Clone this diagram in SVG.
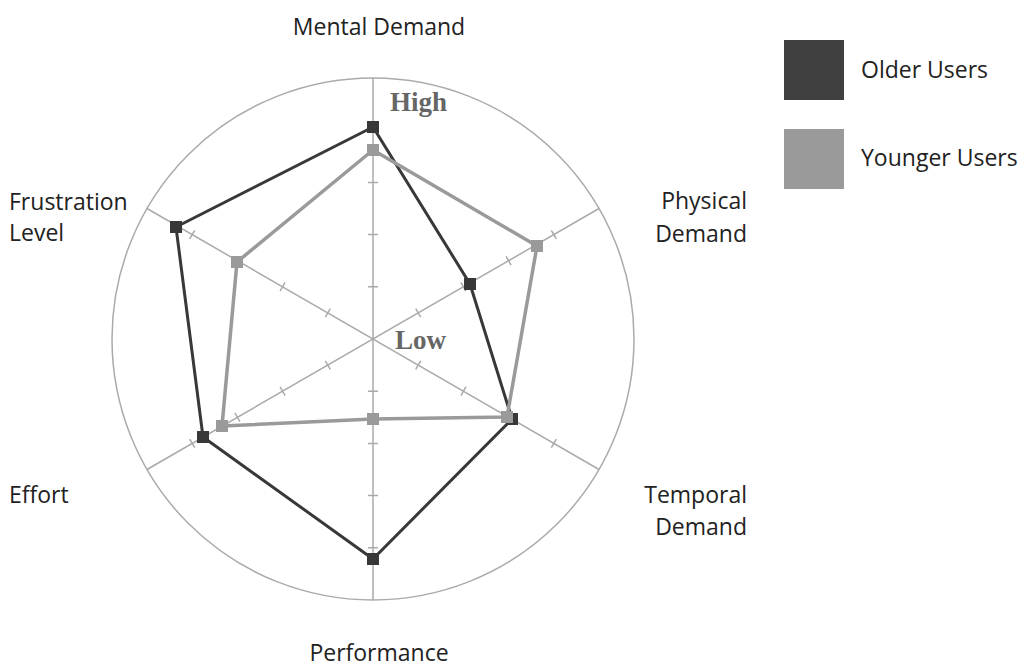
<svg xmlns="http://www.w3.org/2000/svg" xmlns:xlink="http://www.w3.org/1999/xlink" width="1028" height="668" viewBox="0 0 1028 668">
<style>
.lbl{font-family:"Open Sans","Noto Sans",sans-serif;font-size:23px;fill:#222}
.hl{font-family:"Liberation Serif",serif;font-weight:bold;font-size:27px;fill:#666}
.grid{stroke:#aaa;stroke-width:1.5;fill:none}
.older{stroke:#383838;stroke-width:3;fill:none;stroke-linejoin:round}
.younger{stroke:#9a9a9a;stroke-width:3.5;fill:none;stroke-linejoin:round}
.mo{fill:#383838}
.my{fill:#9a9a9a}
</style>
<defs>
<g id="ticks">
<path class="grid" d="M368 286.8h10M368 234.6h10M368 182.4h10M368 130.2h10M368 391.2h10M368 443.4h10M368 495.6h10M368 547.8h10"/>
</g>
<rect id="sq" x="-6" y="-6" width="12" height="12"/>
</defs>
<rect width="1028" height="668" fill="#fff"/>
<g id="grid">
<circle class="grid" cx="373" cy="339" r="261"/>
<path class="grid" d="M373 78V600M147 469.5L599 208.5M147 208.5L599 469.5"/>
<use xlink:href="#ticks"/>
<use xlink:href="#ticks" transform="rotate(60 373 339)"/>
<use xlink:href="#ticks" transform="rotate(120 373 339)"/>
</g>
<g id="connectors">
<polygon class="older" points="373,127 470,284 512,419 373,559 203,437 176,227"/>
<polygon class="younger" points="373,150 537,246 507,417 373,419 222,426 237,262"/>
</g>
<g id="older-points">
<use xlink:href="#sq" class="mo" x="373" y="127"/>
<use xlink:href="#sq" class="mo" x="470" y="284"/>
<use xlink:href="#sq" class="mo" x="512" y="419"/>
<use xlink:href="#sq" class="mo" x="373" y="559"/>
<use xlink:href="#sq" class="mo" x="203" y="437"/>
<use xlink:href="#sq" class="mo" x="176" y="227"/>
</g>
<g id="younger-points">
<use xlink:href="#sq" class="my" x="373" y="150"/>
<use xlink:href="#sq" class="my" x="537" y="246"/>
<use xlink:href="#sq" class="my" x="507" y="417"/>
<use xlink:href="#sq" class="my" x="373" y="419"/>
<use xlink:href="#sq" class="my" x="222" y="426"/>
<use xlink:href="#sq" class="my" x="237" y="262"/>
</g>
<g id="scale-labels">
<text class="hl" x="390" y="111">High</text>
<text class="hl" x="395" y="349">Low</text>
</g>
<g id="axis-mental"><text class="lbl" x="379" y="35" text-anchor="middle">Mental Demand</text></g>
<g id="axis-physical"><text class="lbl" x="747" y="209" text-anchor="end">Physical</text><text class="lbl" x="747" y="242" text-anchor="end">Demand</text></g>
<g id="axis-temporal"><text class="lbl" x="747" y="503" text-anchor="end">Temporal</text><text class="lbl" x="747" y="535" text-anchor="end">Demand</text></g>
<g id="axis-performance"><text class="lbl" x="379" y="661" text-anchor="middle">Performance</text></g>
<g id="axis-effort"><text class="lbl" x="9" y="503">Effort</text></g>
<g id="axis-frustration"><text class="lbl" x="9" y="210">Frustration</text><text class="lbl" x="9" y="241">Level</text></g>
<g id="legend">
<rect x="784" y="40" width="60" height="60" fill="#404040"/>
<text class="lbl" x="861" y="78">Older Users</text>
<rect x="784" y="129" width="60" height="60" fill="#9a9a9a"/>
<text class="lbl" x="861" y="166">Younger Users</text>
</g>
</svg>
